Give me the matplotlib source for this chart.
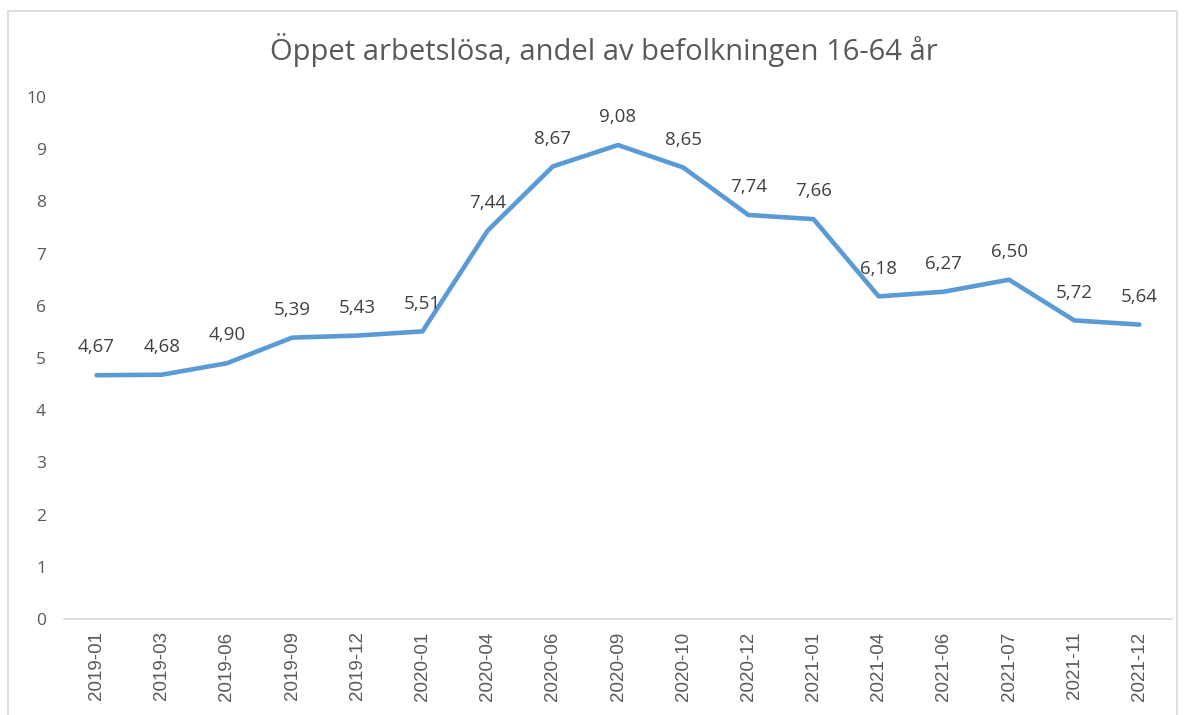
import matplotlib
matplotlib.use("Agg")
import matplotlib.pyplot as plt
from matplotlib.patches import Rectangle

categories = ["2019-01", "2019-03", "2019-06", "2019-09", "2019-12", "2020-01",
              "2020-04", "2020-06", "2020-09", "2020-10", "2020-12", "2021-01",
              "2021-04", "2021-06", "2021-07", "2021-11", "2021-12"]
values = [4.67, 4.68, 4.90, 5.39, 5.43, 5.51, 7.44, 8.67, 9.08, 8.65, 7.74, 7.66,
          6.18, 6.27, 6.50, 5.72, 5.64]
title = "Öppet arbetslösa, andel av befolkningen 16-64 år"

W, H = 1185, 715
fig = plt.figure(figsize=(W / 100, H / 100), dpi=100)
fig.patch.set_facecolor("white")

# outer chart border
fig.add_artist(Rectangle((8 / W, -0.01), (1177 - 8) / W, (H - 11) / H + 0.01,
                         transform=fig.transFigure, fill=False,
                         edgecolor="#d9d9d9", linewidth=1.2))

left, right = 64, 1172
top, bottom = 97, 619
ax = fig.add_axes([left / W, 1 - bottom / H, (right - left) / W, (bottom - top) / H])

x = list(range(len(categories)))
ax.plot(x, values, color="#5B9BD5", linewidth=3.3, solid_capstyle="round",
        solid_joinstyle="round")
ax.set_xlim(-0.5, len(categories) - 0.5)
ax.set_ylim(0, 10)
ax.set_yticks(range(0, 11))
ax.set_xticks(x)
ax.set_xticklabels(categories, rotation=90, family="Liberation Sans",
                   fontsize=13.5, color="#595959")
for lab in ax.get_yticklabels():
    lab.set_family("Open Sans")
    lab.set_fontsize(12.5)
    lab.set_color("#595959")
ax.tick_params(axis="both", length=0)
ax.tick_params(axis="y", pad=13)
ax.tick_params(axis="x", pad=9)
for s in ["top", "right", "left"]:
    ax.spines[s].set_visible(False)
ax.spines["bottom"].set_color("#d9d9d9")
ax.spines["bottom"].set_linewidth(1.2)

for xi, v in zip(x, values):
    ax.annotate(f"{v:.2f}".replace(".", ","), (xi, v), xytext=(0, 13.5),
                textcoords="offset points", ha="center", va="bottom",
                family="Open Sans", fontsize=13.5, color="#404040")

fig.text(604 / W, 1 - 50 / H, title, ha="center", va="center",
         family="Open Sans", fontsize=21, color="#595959")

fig.savefig("out.png", dpi=100)
